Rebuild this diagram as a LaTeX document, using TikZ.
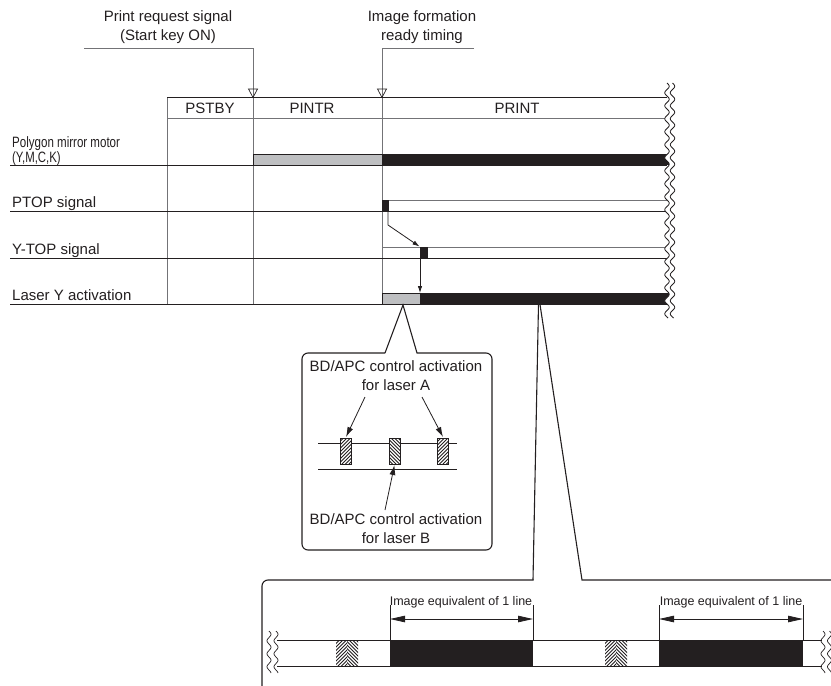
\documentclass[tikz,border=0pt]{standalone}
\usepackage{fontspec}
\setmainfont{Liberation Sans}
\usetikzlibrary{arrows.meta}
\definecolor{dk}{RGB}{35,31,32}
\definecolor{gl}{RGB}{115,115,118}
\definecolor{lg}{RGB}{190,191,193}
\begin{document}
\begin{tikzpicture}[x=1pt,y=-1pt,
  lab/.style={font=\fontsize{15}{19}\selectfont, inner sep=0pt, text=dk},
  small/.style={font=\fontsize{12.5}{14}\selectfont, inner sep=0pt, text=dk},
  thin/.style={draw=gl, line width=0.9pt},
  base/.style={draw=dk, line width=0.9pt},
  marker/.style={draw=dk, line width=0.7pt, fill=none},
  hatchline/.style={draw=dk, line width=0.75pt},
  sigarrow/.style={draw=dk, line width=0.8pt, -{Latex[length=7pt,width=4.5pt]}},
  callarrow/.style={draw=dk, line width=0.8pt, -{Latex[length=10pt,width=6pt]}},
  dimarrow/.style={draw=dk, line width=0.8pt, {Triangle[length=15pt,width=6.5pt]}-{Triangle[length=15pt,width=6.5pt]}},
  callout/.style={draw=dk, line width=1.1pt}
]
\useasboundingbox (0,0) rectangle (831,686);

% hatch helpers: NE = "////", NW = "\\\\"  (image coordinates, y downward)
\def\hatchNE#1#2#3#4{\begin{scope}\clip (#1,#2) rectangle (#3,#4);
  \foreach \k in {-40,-36.5,...,20}{\draw[hatchline] (#1+\k,#4) -- ++(40,-40);}\end{scope}}
\def\hatchNW#1#2#3#4{\begin{scope}\clip (#1,#2) rectangle (#3,#4);
  \foreach \k in {-40,-36.5,...,20}{\draw[hatchline] (#1+\k,#2) -- ++(40,40);}\end{scope}}

% ---------- titles ----------
\node[lab, align=center] (prq) at (168,27) {Print request signal\\(Start key ON)};
\node[lab, align=center] (ift) at (422,27) {Image formation\\ready timing};

\coordinate (prqL) at (84,48);
\coordinate (prqC) at (253,48);
\coordinate (iftC) at (382,48);
\coordinate (iftR) at (474,48);

% ---------- grid ----------
\draw[thin] (prqL) -- (prqC) -- (253,304);
\draw[thin] (iftR) -- (iftC) -- (382,304);
\draw[thin] (167,97) -- (167,304);
\draw[base] (167,97) -- (667,97);
\draw[thin] (167,118) -- (667,118);
\draw[marker] (248.5,89) -- (257.5,89) -- (253,97.5) -- cycle;
\draw[marker] (377.5,89) -- (386.5,89) -- (382,97.5) -- cycle;

\node[lab] (pstby) at (210,108) {PSTBY};
\node[lab] (pintr) at (312,108) {PINTR};
\node[lab] (print) at (517,108) {PRINT};

% ---------- row labels ----------
\node[anchor=north west, align=left, inner sep=0pt, text=dk, font=\fontsize{15}{11}\selectfont] (lpoly) at (12,136)
  {\scalebox{0.77}[1]{Polygon mirror motor}\\\scalebox{0.76}[1]{(Y,M,C,K)}};
\node[lab, anchor=base west] (lptop) at (12,207) {PTOP signal};
\node[lab, anchor=base west] (lytop) at (12,254) {Y-TOP signal};
\node[lab, anchor=base west] (llas) at (12,300) {Laser Y activation};

% ---------- polygon motor ----------
\draw[base] (10,165) -- (667,165);
\filldraw[fill=lg, draw=dk, line width=0.6pt] (253,154) rectangle (382,165);
\fill[dk] (382,154) rectangle (670,165.4);

% ---------- PTOP ----------
\draw[base] (10,211) -- (667,211);
\draw[thin] (382,200.5) -- (667,200.5);
\fill[dk] (382,200) rectangle (389,211.4);

% ---------- Y-TOP ----------
\draw[base] (10,258) -- (667,258);
\draw[thin] (382,247) -- (667,247);
\fill[dk] (420,247) rectangle (427.5,258.4);

% ---------- Laser Y ----------
\draw[base] (10,304) -- (667,304);
\filldraw[fill=lg, draw=dk, line width=0.6pt] (382,293) rectangle (420,304);
\fill[dk] (420,293) rectangle (670,304.4);

\coordinate (pt1) at (388,211.5);
\coordinate (pt2) at (388,225);
\coordinate (yt) at (419.5,246.5);
\coordinate (yt2) at (420,258.5);
\coordinate (lsr) at (420,293);
\draw[sigarrow] (pt1) -- (pt2) -- (yt);
\draw[sigarrow] (yt2) -- (lsr);

% ---------- break (wavy) ----------
\fill[white] plot[domain=83:318, samples=160] ({667+2.3*sin(27.69*(\x-83))},\x) -- (710,318) -- (710,83) -- cycle;
\draw[dk, line width=0.8pt] plot[domain=83:318, samples=160] ({667+2.3*sin(27.69*(\x-83))},\x);
\draw[dk, line width=0.8pt] plot[domain=83:318, samples=160] ({672.5+2.3*sin(27.69*(\x-83))},\x);

% ---------- callout 1 ----------
\coordinate (apex1) at (403,305);
\filldraw[callout, fill=white] (385,353) -- (apex1) -- (417,353)
   [rounded corners=6pt] -- (492,353) -- (492,550) -- (302,550) -- (302,353) [sharp corners] -- (385,353);
\node[lab, align=center] (ctA) at (396,376) {BD/APC control activation\\for laser A};
\node[lab, align=center] (ctB) at (396,529) {BD/APC control activation\\for laser B};

\draw[base] (318,443) -- (457,443);
\draw[base] (318,469) -- (457,469);
\filldraw[fill=white, draw=dk, line width=0.6pt] (340,438) rectangle (351,464);
\filldraw[fill=white, draw=dk, line width=0.6pt] (389,438) rectangle (400,464);
\filldraw[fill=white, draw=dk, line width=0.6pt] (437.5,438) rectangle (448.5,464);
\hatchNE{340}{438}{351}{464}
\hatchNW{389}{438}{400}{464}
\hatchNE{437.5}{438}{448.5}{464}
\coordinate (r1) at (346,437);
\coordinate (r2) at (394.5,465);
\coordinate (r3) at (443,437);
\coordinate (a1) at (365,397);
\coordinate (a3) at (422,397);
\coordinate (b1) at (385,510);
\draw[callarrow] (a1) -- (r1);
\draw[callarrow] (a3) -- (r3);
\draw[callarrow] (b1) -- (r2);

% ---------- callout 2 ----------
\coordinate (apex2a) at (538.5,304.5);
\coordinate (apex2b) at (540,304.5);
\draw[callout] (533,580) -- (apex2a);
\draw[callout] (apex2b) -- (582,580) -- (831,580);
\draw[callout, rounded corners=6pt] (262,686) -- (262,580) -- (533.5,580);

\draw[base] (277,640) -- (822,640);
\draw[base] (277,666) -- (822,666);
% hatched BD/APC pulses
\fill[white] (336,640.5) rectangle (358,665.5);
\fill[white] (605,640.5) rectangle (627,665.5);
\hatchNE{336}{640}{347}{666}
\hatchNW{347}{640}{358}{666}
\hatchNE{605}{640}{616}{666}
\hatchNW{616}{640}{627}{666}
% image lines
\fill[dk] (390,640) rectangle (533,666.4);
\fill[dk] (659,640) rectangle (803,666.4);
\draw[base] (390,605) -- (390,640);
\draw[base] (533,605) -- (533,640);
\draw[base] (659,605) -- (659,640);
\draw[base] (803,605) -- (803,640);
\coordinate (d1a) at (390,619);
\coordinate (d1b) at (533,619);
\coordinate (d2a) at (659,619);
\coordinate (d2b) at (803,619);
\draw[dimarrow] (d1a) -- (d1b);
\draw[dimarrow] (d2a) -- (d2b);
\node[small] (im1) at (461,602) {Image equivalent of 1 line};
\node[small] (im2) at (731,602) {Image equivalent of 1 line};

% breaks
\draw[dk, line width=0.7pt] plot[domain=631:673, samples=60] ({269+2*sin(27.69*(\x-631))},\x);
\draw[dk, line width=0.7pt] plot[domain=631:673, samples=60] ({276+2*sin(27.69*(\x-631))},\x);
\draw[dk, line width=0.7pt] plot[domain=631:673, samples=60] ({823+2*sin(27.69*(\x-631))},\x);
\draw[dk, line width=0.7pt] plot[domain=631:673, samples=60] ({829.5+2*sin(27.69*(\x-631))},\x);
\end{tikzpicture}
\end{document}
